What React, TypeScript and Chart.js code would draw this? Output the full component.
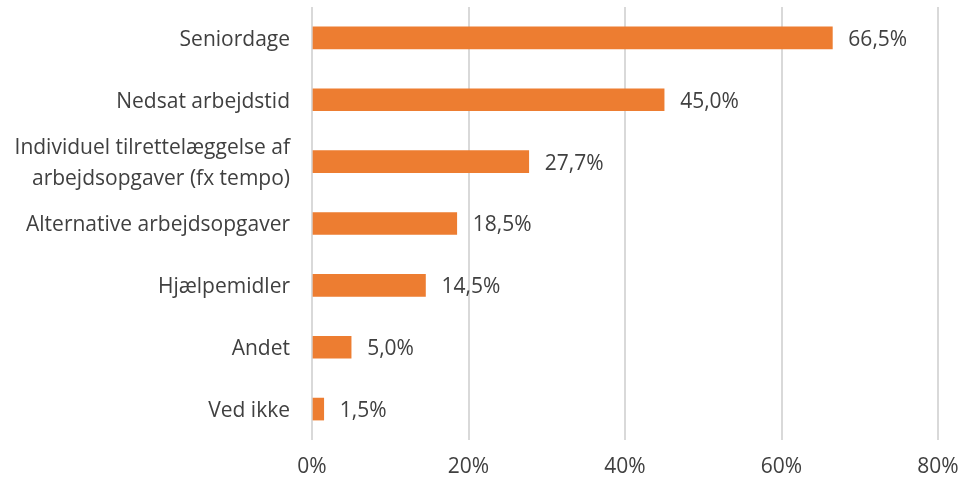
import React, { useEffect, useRef } from "react";
import { Chart, registerables } from "chart.js";

Chart.register(...registerables);

const categories: (string | string[])[] = [
  "Seniordage",
  "Nedsat arbejdstid",
  ["Individuel tilrettelæggelse af", "arbejdsopgaver (fx tempo)"],
  "Alternative arbejdsopgaver",
  "Hjælpemidler",
  "Andet",
  "Ved ikke",
];
const values: number[] = [66.5, 45.0, 27.7, 18.5, 14.5, 5.0, 1.5];
const xTicks: number[] = [0, 20, 40, 60, 80];

const FONT = "'Open Sans', Lato, sans-serif";
const TEXT = "#404040";
const SIZE = 21;

const labelPlugin = {
  id: "barLabels",
  afterDatasetsDraw(chart: any) {
    const ctx = chart.ctx;
    const meta = chart.getDatasetMeta(0);
    ctx.save();
    ctx.font = `${SIZE}px ${FONT}`;
    ctx.fillStyle = TEXT;
    ctx.textAlign = "left";
    ctx.textBaseline = "middle";
    meta.data.forEach((bar: any, i: number) => {
      const txt = values[i].toFixed(1).replace(".", ",") + "%";
      ctx.fillText(txt, bar.x + 16, bar.y + 2);
    });
    ctx.restore();
  },
};

export default function App() {
  const ref = useRef<HTMLCanvasElement | null>(null);
  useEffect(() => {
    document.body.style.margin = "0";
    if (!ref.current) return;
    const chart = new Chart(ref.current, {
      type: "bar",
      data: {
        labels: categories,
        datasets: [
          {
            data: values,
            backgroundColor: "#ED7D31",
            barThickness: 22,
          },
        ],
      },
      options: {
        indexAxis: "y",
        responsive: false,
        animation: false,
        layout: { padding: { top: 7, right: 23, left: 0, bottom: 0 } },
        plugins: { legend: { display: false }, tooltip: { enabled: false } },
        scales: {
          x: {
            min: 0,
            max: 80,
            afterBuildTicks: (axis: any) => {
              axis.ticks = xTicks.map((v) => ({ value: v }));
            },
            afterFit: (scale: any) => {
              scale.height = 39;
              scale.paddingLeft = 0;
              scale.paddingRight = 0;
            },
            grid: { color: "#D9D9D9", lineWidth: 2, drawTicks: false },
            border: { display: false },
            ticks: {
              padding: 14,
              color: TEXT,
              autoSkip: false,
              maxRotation: 0,
              font: { family: FONT, size: SIZE },
              callback: (v: any) => v + "%",
            },
          },
          y: {
            afterFit: (scale: any) => {
              scale.width = 312;
              scale.paddingTop = 0;
              scale.paddingBottom = 0;
            },
            grid: { display: false, drawTicks: false },
            border: { display: false },
            ticks: {
              padding: 22,
              labelOffset: 2,
              color: TEXT,
              autoSkip: false,
              font: { family: FONT, size: SIZE, lineHeight: 1.45 },
            },
          },
        },
      },
      plugins: [labelPlugin],
    });
    return () => chart.destroy();
  }, []);
  return <canvas ref={ref} width={961} height={479} style={{ display: "block" }} />;
}
